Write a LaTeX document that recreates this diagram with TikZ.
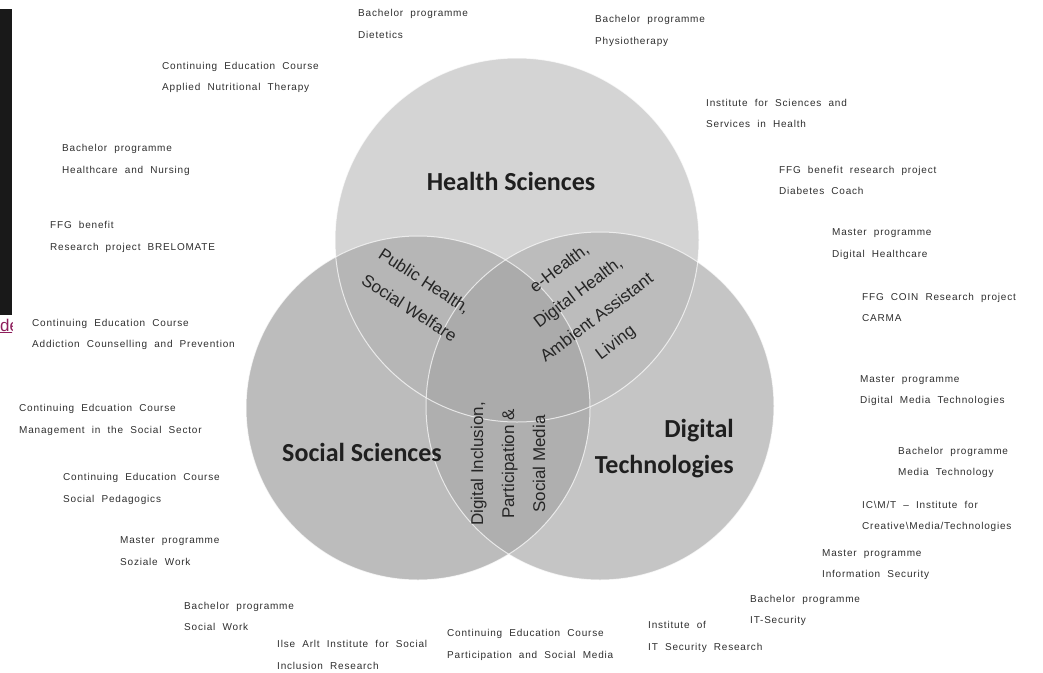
\documentclass[tikz,border=0pt]{standalone}
\usepackage{fontspec}
\setmainfont{Liberation Sans}
\newfontfamily\headfont{Carlito}
\newfontfamily\lblfont[LetterSpace=8,WordSpace=2]{Liberation Sans}
\definecolor{hsgray}{HTML}{D4D4D4}
\definecolor{ssgray}{HTML}{BCBCBC}
\definecolor{dtgray}{HTML}{C5C5C5}
\definecolor{hssgray}{HTML}{B6B6B6}
\definecolor{hdtgray}{HTML}{BCBCBC}
\definecolor{sdtgray}{HTML}{AFAFAF}
\definecolor{allgray}{HTML}{ABABAB}
\definecolor{linkcol}{HTML}{8E1F5C}
\begin{document}
\begin{tikzpicture}[x=1pt,y=-1pt,
    lbl/.style={anchor=west,align=left,inner sep=0pt,text=black!82,font=\lblfont\fontsize{10}{21.5}\selectfont},
    head/.style={inner sep=0pt,text=black!88,font=\headfont\bfseries\fontsize{26}{36}\selectfont},
    over/.style={inner sep=0pt,text=black!85,font=\fontsize{17}{31}\selectfont},
    rim/.style={draw=white,line width=1pt,draw opacity=0.7}]
  \useasboundingbox (0,0) rectangle (1043,672);
  \fill[black!90] (0,9) rectangle (12,315);
  \begin{scope}
    \clip (0,316) rectangle (12,340);
    \node[anchor=base west,inner sep=0pt,text=linkcol,font=\fontsize{17}{20}\selectfont] (link) at (0,331) {\underline{de}};
  \end{scope}

  \fill[hsgray] (517,240) circle[radius=182pt];
  \fill[ssgray] (418,408) circle[radius=172pt];
  \fill[dtgray] (600,406) circle[radius=174pt];
  \begin{scope}
    \clip (517,240) circle[radius=182pt];
    \fill[hssgray] (418,408) circle[radius=172pt];
    \fill[hdtgray] (600,406) circle[radius=174pt];
  \end{scope}
  \begin{scope}
    \clip (418,408) circle[radius=172pt];
    \fill[sdtgray] (600,406) circle[radius=174pt];
    \clip (600,406) circle[radius=174pt];
    \fill[allgray] (517,240) circle[radius=182pt];
  \end{scope}
  \draw[rim] (517,240) circle[radius=182pt];
  \draw[rim] (418,408) circle[radius=172pt];
  \draw[rim] (600,406) circle[radius=174pt];

  \node[head] (hs) at (511,181) {Health Sciences};
  \node[head] (ss) at (362,452) {Social Sciences};
  \node[head,anchor=east,align=right] (dt) at (734,449) {Digital\\Technologies};

  \node[over,align=left,rotate=-33] (phsw) at (418,295) {Public Health,\\Social Welfare};
  \node[over,align=center,rotate=37] (ehealth) at (588,306) {e-Health,\\Digital Health,\\Ambient Assistant\\Living};
  \node[over,align=center,rotate=90] (incl) at (508,464) {Digital Inclusion,\\Participation \&\\Social Media};

  \node[lbl] (dietetics) at (358,24) {Bachelor programme\\Dietetics};
  \node[lbl] (physio) at (595,31) {Bachelor programme\\Physiotherapy};
  \node[lbl] (nutrition) at (162,77.5) {Continuing Education Course\\Applied Nutritional Therapy};
  \node[lbl] (ish) at (706,113.5) {Institute for Sciences and\\Services in Health};
  \node[lbl] (nursing) at (62,160) {Bachelor programme\\Healthcare and Nursing};
  \node[lbl] (diabetes) at (779,180.5) {FFG benefit research project\\Diabetes Coach};
  \node[lbl] (brelomate) at (50,237) {FFG benefit\\Research project BRELOMATE};
  \node[lbl] (dighealth) at (832,244) {Master programme\\Digital Healthcare};
  \node[lbl] (carma) at (862,307.5) {FFG COIN Research project\\CARMA};
  \node[lbl] (addiction) at (32,334.5) {Continuing Education Course\\Addiction Counselling and Prevention};
  \node[lbl] (dmt) at (860,390.5) {Master programme\\Digital Media Technologies};
  \node[lbl] (management) at (19,420) {Continuing Edcuation Course\\Management in the Social Sector};
  \node[lbl] (mediatech) at (898,462.5) {Bachelor programme\\Media Technology};
  \node[lbl] (pedagogics) at (63,489) {Continuing Education Course\\Social Pedagogics};
  \node[lbl] (icmt) at (862,516.5) {IC\textbackslash M/T – Institute for\\Creative\textbackslash Media/Technologies};
  \node[lbl] (sozialework) at (120,551) {Master programme\\Soziale Work};
  \node[lbl] (infosec) at (822,564.5) {Master programme\\Information Security};
  \node[lbl] (socialwork) at (184,616.5) {Bachelor programme\\Social Work};
  \node[lbl] (ilsearlt) at (277,655) {Ilse Arlt Institute for Social\\Inclusion Research};
  \node[lbl] (partmedia) at (447,645) {Continuing Education Course\\Participation and Social Media};
  \node[lbl] (itsecres) at (648,637) {Institute of\\IT Security Research};
  \node[lbl] (itsecurity) at (750,610.5) {Bachelor programme\\IT-Security};
\end{tikzpicture}
\end{document}
